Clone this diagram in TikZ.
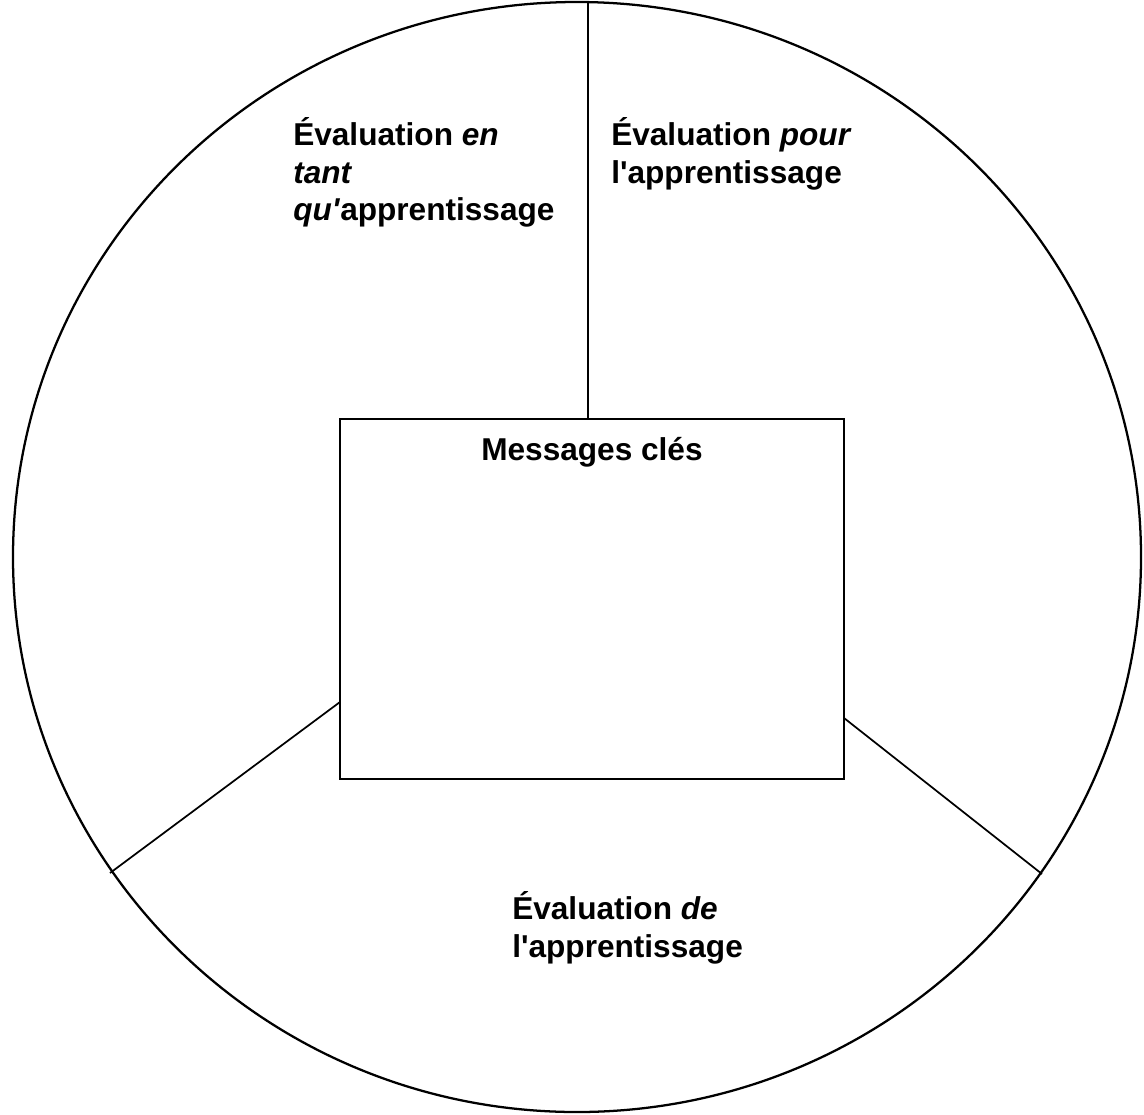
\documentclass[tikz,border=0pt]{standalone}
\usepackage{fontspec}
\setmainfont{Liberation Sans}
\usepackage{tikz}
\usetikzlibrary{positioning}

\begin{document}
\begin{tikzpicture}[x=0.75pt,y=0.75pt,yscale=-1,xscale=1,
  cercle/.style={line width=1.7pt},
  rayon/.style={line width=1.3pt},
  cadre/.style={draw,line width=1.3pt,minimum width=378pt,minimum height=270pt,inner sep=0pt},
  titre/.style={inner sep=0pt,align=left,font=\fontsize{23.7}{28.3}\selectfont\bfseries}]
\useasboundingbox (0,0) rectangle (1144,1114);

%Ellipse
\draw[cercle] (577,557) ellipse [x radius=564, y radius=555];

%Shape: Rectangle
\node[cadre] (cle) at (592,599) {};
% Text Node
\node[titre,below=14.3pt of cle.north] (msg) {Messages clés};

%Coordinates on the circle
\coordinate (haut) at (588,2.1);
\coordinate (gauche) at (110,873);
\coordinate (droite) at (1042,874);
%Coordinates on the box
\coordinate (jgauche) at (340,702);
\coordinate (jdroite) at (844,718);

%Straight Lines
\draw[line width=0.9pt] (haut) -- (haut |- cle.north);
%Straight Lines
\draw[rayon] (gauche) -- (jgauche);
%Straight Lines
\draw[rayon] (droite) -- (jdroite);

% Text Node
\node[titre,anchor=north west] (en) at (293,117) {Évaluation \textit{en}\\\textit{tant}\\\textit{qu\textquotesingle}apprentissage};
% Text Node
\node[titre,anchor=north west] (pour) at (611,117) {Évaluation \textit{pour}\\l\textquotesingle apprentissage};
% Text Node
\node[titre,anchor=north west] (de) at (512,891) {Évaluation \textit{de}\\l\textquotesingle apprentissage};

\end{tikzpicture}
\end{document}
